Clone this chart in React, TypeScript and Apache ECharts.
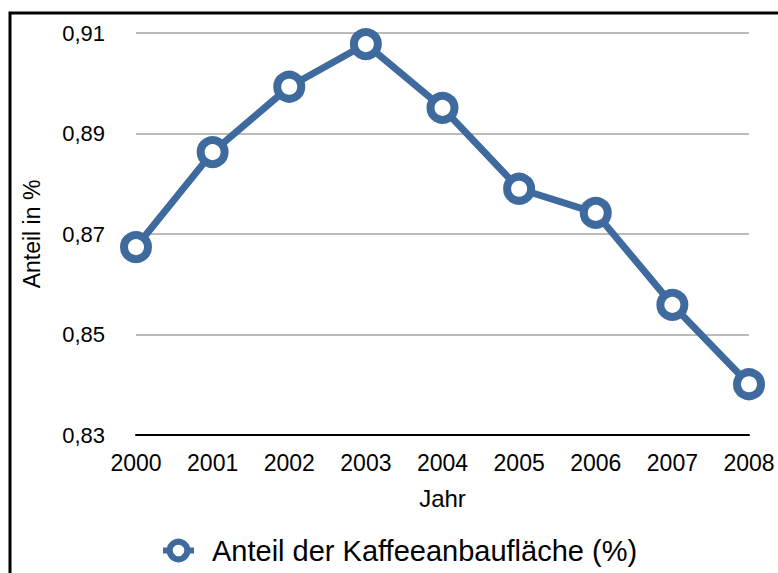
import React, { useEffect, useRef } from "react";
import * as echarts from "echarts";

const years = ["2000", "2001", "2002", "2003", "2004", "2005", "2006", "2007", "2008"];
const shares = [0.8674, 0.8863, 0.8993, 0.9078, 0.8951, 0.879, 0.8742, 0.8559, 0.8401];
const seriesName = "Anteil der Kaffeeanbaufläche (%)";

export default function App() {
  const ref = useRef<HTMLDivElement>(null);
  useEffect(() => {
    if (!ref.current) return;
    const chart = echarts.init(ref.current, null, { renderer: "svg" });
    const font = "'Liberation Sans', Arial, sans-serif";
    const blue = "#3e6a9d";
    chart.setOption({
      animation: false,
      backgroundColor: "#fff",
      textStyle: { fontFamily: font },
      graphic: [
        {
          type: "rect",
          shape: { x: 10, y: 13, width: 800, height: 600 },
          style: { fill: "none", stroke: "#000", lineWidth: 3 },
          z: 100,
        },
      ],
      grid: { left: 136, right: 29, top: 33, bottom: 138 },
      legend: {
        bottom: 8,
        left: 160,
        padding: 0,
        itemWidth: 31,
        itemHeight: 22,
        itemStyle: { borderWidth: 6 },
        lineStyle: { width: 6 },
        textStyle: {
          fontSize: 29,
          color: "#000",
          fontFamily: font,
          padding: [0, 0, 0, 13],
        },
        data: [{ name: seriesName }],
      },
      xAxis: {
        type: "category",
        data: years,
        boundaryGap: false,
        name: "Jahr",
        nameLocation: "middle",
        nameGap: 51,
        nameTextStyle: { fontSize: 24, color: "#000", fontFamily: font },
        axisLine: { lineStyle: { color: "#000", width: 2 } },
        axisTick: { show: false },
        axisLabel: { fontSize: 23, color: "#000", margin: 16, fontFamily: font },
      },
      yAxis: {
        type: "value",
        min: 0.83,
        max: 0.91,
        interval: 0.02,
        name: "Anteil in %",
        nameLocation: "middle",
        nameGap: 93,
        nameTextStyle: { fontSize: 23, color: "#000", fontFamily: font },
        axisLine: { show: false },
        axisTick: { show: false },
        axisLabel: {
          fontSize: 22,
          color: "#000",
          margin: 31,
          fontFamily: font,
          formatter: (v: number) => v.toFixed(2).replace(".", ","),
        },
        splitLine: { lineStyle: { color: "#bbbbbb", width: 2 } },
      },
      series: [
        {
          name: seriesName,
          type: "line",
          data: shares,
          symbol: "circle",
          symbolSize: 24,
          lineStyle: { color: blue, width: 7 },
          itemStyle: { color: "#fff", borderColor: blue, borderWidth: 8 },
        },
      ],
    });
    return () => chart.dispose();
  }, []);
  return (
    <div
      ref={ref}
      style={{ position: "fixed", left: 0, top: 0, width: 778, height: 573 }}
    />
  );
}
